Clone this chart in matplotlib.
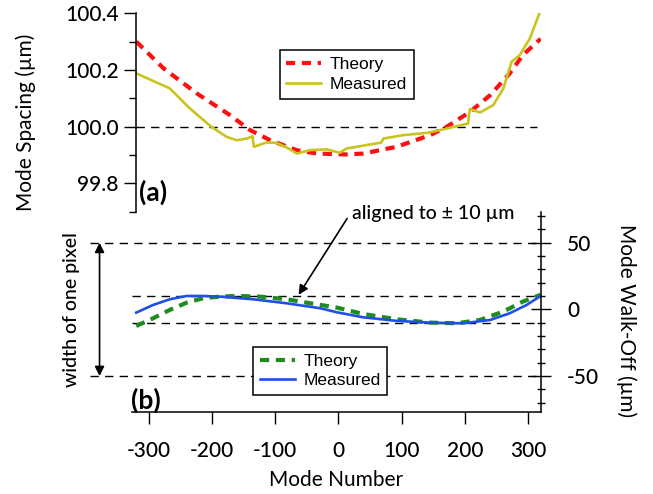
import matplotlib
matplotlib.use("Agg")
import matplotlib.pyplot as plt
from matplotlib.ticker import MultipleLocator, FixedLocator

# ---- data: panel (a) mode spacing ----
theory_a_x = [-320, -277, -224, -172, -140, -108, -66, -34, 13, 39, 92, 145, 171, 208, 240, 271, 292, 320]
theory_a_y = [100.30, 100.206, 100.117, 100.041, 99.988, 99.952, 99.917, 99.905, 99.902, 99.905,
              99.929, 99.970, 99.999, 100.052, 100.111, 100.188, 100.253, 100.31]

meas_a_x = [-320, -267, -235, -201, -177, -161, -145, -136, -134, -114, -98, -79, -66, -45, -19, 2,
            13, 29, 68, 71, 102, 140, 161, 205, 208, 224, 245, 261, 274, 287, 303, 318]
meas_a_y = [100.188, 100.135, 100.064, 99.999, 99.964, 99.952, 99.958, 99.966, 99.929, 99.944,
            99.943, 99.923, 99.905, 99.917, 99.920, 99.908, 99.923, 99.929, 99.944, 99.958,
            99.970, 99.978, 99.988, 100.011, 100.062, 100.050, 100.076, 100.135, 100.229,
            100.253, 100.312, 100.40]

# ---- data: panel (b) mode walk-off ----
theory_b_x = [-320, -293, -267, -240, -214, -188, -161, -124, -82, -29, -3, 39, 92, 145, 187, 224, 261, 292, 320]
theory_b_y = [-12.4, -6.6, -0.4, 5.1, 8.4, 9.6, 10.1, 9.6, 7.6, 3.4, 1.4, -3.4, -7.4, -9.9, -10.4, -7.9, -1.6, 5.9, 11.0]

meas_b_x = [-320, -293, -267, -240, -214, -188, -135, -82, -29, -3, 39, 92, 145, 198, 240, 271, 298, 320]
meas_b_y = [-2.4, 3.4, 7.6, 10.1, 10.1, 9.6, 7.6, 4.6, 0.9, -2.1, -5.9, -8.6, -9.9, -10.4, -7.9, -2.9, 3.4, 10.1]

x_ticks = [-300, -200, -100, 0, 100, 200, 300]
a_ticks = [99.8, 100.0, 100.2, 100.4]
b_ticks = [-50, 0, 50]

FONT = ['Lato', 'DejaVu Sans']
LEGF = ['Liberation Sans', 'DejaVu Sans']
plt.rcParams['font.family'] = FONT
plt.rcParams['font.weight'] = 'medium'
plt.rcParams['axes.unicode_minus'] = False

fig = plt.figure(figsize=(6.53, 4.94), dpi=100)

LEG_KW = dict(loc='upper left', borderaxespad=0, fancybox=False, edgecolor='black',
              framealpha=1, prop={'family': LEGF, 'size': 12.5, 'weight': 'normal'},
              handlelength=2.0, handletextpad=0.48, borderpad=0.4, labelspacing=0.25)

# ---------- panel (a) ----------
axa = fig.add_axes([0.2087, 0.5715, 0.6193, 0.4016])
axa.set_xlim(-320, 320)
axa.set_ylim(99.7, 100.4)
for s in ['top', 'right', 'bottom']:
    axa.spines[s].set_visible(False)
axa.spines['left'].set_linewidth(1.1)
axa.set_xticks([])
axa.yaxis.set_major_locator(FixedLocator(a_ticks))
axa.yaxis.set_minor_locator(MultipleLocator(0.1))
axa.set_yticklabels([f"{v:.1f}" for v in a_ticks])
axa.tick_params(axis='y', which='major', direction='out', length=8.5, width=1.0, labelsize=15, pad=4)
axa.tick_params(axis='y', which='minor', direction='out', length=5, width=1.0)
axa.axhline(100.0, color='black', lw=1.0, ls=(0, (6, 4.5)), xmin=0, xmax=0.99)
axa.plot(theory_a_x, theory_a_y, color='#ff1010', lw=3.0, ls=(0, (2.2, 1.6)), label='Theory')
axa.plot(meas_a_x, meas_a_y, color='#c9c41e', lw=1.9, label='Measured')
axa.set_ylabel('Mode Spacing (µm)', fontsize=15)
axa.yaxis.set_label_coords(-0.247, 0.45)
axa.text(-316, 99.77, '(a)', fontsize=19, fontweight='bold', va='center', ha='left')
leg = axa.legend(bbox_to_anchor=(279.5 / 653, 1 - 50 / 494), bbox_transform=fig.transFigure, **LEG_KW)
leg.get_frame().set_linewidth(1.1)

# ---------- panel (b) ----------
axb = fig.add_axes([0.2018, 0.1658, 0.6262, 0.4049])
axb.set_xlim(-327, 320)
axb.set_ylim(-77, 73)
axb.patch.set_alpha(0)
for s in ['top', 'left']:
    axb.spines[s].set_visible(False)
for s in ['bottom', 'right']:
    axb.spines[s].set_linewidth(1.1)
axb.xaxis.set_major_locator(FixedLocator(x_ticks))
axb.tick_params(axis='x', which='major', direction='out', length=8.6, width=1.0, labelsize=15, pad=12)
axb.yaxis.tick_right()
axb.yaxis.set_label_position('right')
axb.yaxis.set_major_locator(FixedLocator(b_ticks))
axb.yaxis.set_minor_locator(MultipleLocator(10))
axb.tick_params(axis='y', which='major', direction='inout', length=14, width=1.0, labelsize=15, pad=12)
axb.tick_params(axis='y', which='minor', direction='inout', length=6, width=1.0)

for yv, x0 in [(50, -393), (-50, -393), (10, -327), (-10, -327)]:
    axb.plot([x0, 320], [yv, yv], color='black', lw=1.0, ls=(0, (6, 4.5)), clip_on=False)

axb.plot(theory_b_x, theory_b_y, color='#1e8c1e', lw=3.0, ls=(0, (2.2, 1.6)), label='Theory')
axb.plot(meas_b_x, meas_b_y, color='#1f4fe6', lw=1.9, label='Measured')

axb.set_xlabel('Mode Number', fontsize=15, va='baseline')
axb.xaxis.set_label_coords(0.5, -0.37)
axb.set_ylabel('Mode Walk-Off (µm)', fontsize=15, rotation=-90)
axb.yaxis.set_label_coords(1.235, 0.4575)

axb.text(-329, -68, '(b)', fontsize=19, fontweight='bold', va='center', ha='left')

axb.annotate('', xy=(-378, 50), xytext=(-378, -50),
             arrowprops=dict(arrowstyle='<|-|>', color='black', lw=1.2, mutation_scale=14,
                             shrinkA=0, shrinkB=0), annotation_clip=False)
axb.text(-423, 0, 'width of one pixel', rotation=90, fontsize=14, va='center', ha='center',
         clip_on=False)

axb.annotate('aligned to ± 10 µm', xy=(-63, 11), xytext=(150, 72), fontsize=14,
             ha='center', va='center', annotation_clip=False,
             arrowprops=dict(arrowstyle='-|>', color='black', lw=1.2, mutation_scale=14,
                             shrinkA=0, shrinkB=0, relpos=(-0.03, 0.2)))

legb = axb.legend(bbox_to_anchor=(253.3 / 653, 1 - 346.7 / 494), bbox_transform=fig.transFigure, **LEG_KW)
legb.get_frame().set_linewidth(1.1)

fig.savefig('out.png', dpi=100)
